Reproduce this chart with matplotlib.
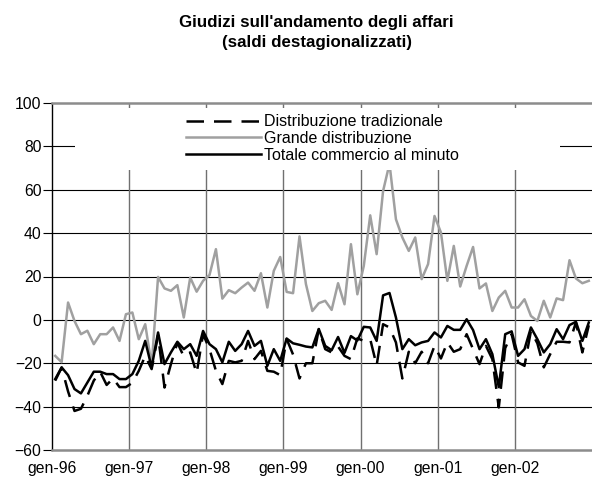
import numpy as np
from matplotlib import pyplot as plt
from matplotlib.patches import Rectangle

plt.rcParams['font.family'] = ['Liberation Sans', 'DejaVu Sans']

# mesi da gen-96 a dic-02
anni = ['gen-96', 'gen-97', 'gen-98', 'gen-99', 'gen-00', 'gen-01', 'gen-02']

tradizionale = [-28, -22, -33, -42, -41, -35, -28, -24, -30, -27, -31, -31,
                -29, -23.5, -16.6, -22.7, -7, -31.2, -20.4, -10.5, -16.9, -15, -24.6, -6.6,
                -13.5, -23.5, -29.6, -18.9, -19.6, -18.9, -9.7, -18.1, -14.3, -23.5, -23.9, -25.5,
                -8.8, -16, -27, -20, -20, -4.3, -13.5, -15, -12.3, -16.6, -18.1, -8.5,
                -9.7, -8.9, -21, -2, -3.5, -10.4, -27, -14.7, -20, -14.7, -20, -12,
                -17.8, -10.4, -14.7, -13.5, -6.6, -13.5, -20.4, -12, -18.1, -40.4, -13, -6.6,
                -19.6, -21.2, -5.1, -10.8, -21.9, -15.8, -10.1, -10.1, -10.4, -1.2, -15, -2.5]

grande = [-16.6, -19.5, 8, -0.5, -6.6, -5, -11.2, -6.6, -6.6, -3.5, -9.7, 2.6,
          3.4, -8.9, -2, -21, 19.8, 14.5, 13.4, 16, 1.1, 19.5, 13, 18,
          20.7, 32.6, 9.8, 13.7, 12.3, 14.9, 17.2, 13.4, 21.5, 5.7, 22.6, 29,
          12.9, 12.3, 38.5, 16.5, 4.1, 7.7, 8.8, 4.6, 16.9, 7.2, 34.9, 11.8,
          24.9, 48.2, 30.3, 59.4, 72, 46.4, 38, 31.8, 38, 18.8, 25.7, 47.9,
          40.3, 18, 34.1, 15.4, 24.9, 33.6, 14.5, 16.8, 4.1, 10.3, 13.4, 5.7,
          5.7, 9.5, 1.8, -0.5, 8.8, 1.1, 9.9, 9.1, 27.5, 19.1, 16.9, 18]

totale = [-27.3, -21.9, -25.5, -31.9, -33.9, -28.9, -23.9, -23.9, -25, -25, -27.3, -27.3,
          -25, -18.9, -9.7, -21.9, -5.8, -20.4, -15, -10.1, -13.5, -11.2, -16.6, -5.1,
          -11.2, -13.5, -19.6, -10.1, -14.3, -11.2, -5.1, -12, -9.7, -21.2, -13.5, -18.9,
          -8.6, -10.8, -11.5, -12.3, -12.7, -4.2, -12, -14, -7.9, -15.2, -7.5, -9.5,
          -3.2, -3.5, -9.7, 11.3, 12.4, 1.1, -13.5, -8.9, -11.7, -10.4, -9.7, -5.8,
          -8.1, -2.8, -4.6, -4.6, 0.3, -4.7, -13.5, -8.9, -15.8, -31, -6.6, -5.3,
          -16.6, -13.5, -3.5, -8.9, -15, -11.2, -4.3, -8.9, -2.4, -0.9, -9.7, -1.2]

x = np.arange(len(totale)) + 0.5

fig = plt.figure(figsize=(5.92, 4.82), dpi=100)
ax = fig.add_axes([52/592, 32/482, 540/592, 347/482])

# griglia
for v in [-40, -20, 0, 20, 40, 60, 80]:
    ax.axhline(v, color='black', lw=0.8, zorder=1)
for k in range(1, len(anni)):
    ax.axvline(12*k, color='#707070', lw=1.0, zorder=1)

l1, = ax.plot(x, tradizionale, color='black', lw=1.8, dashes=(7, 4), zorder=3)
l2, = ax.plot(x, grande, color='#a0a0a0', lw=1.8, zorder=2)
l3, = ax.plot(x, totale, color='black', lw=1.8, zorder=3)

# riquadro bianco della legenda
ax.add_patch(Rectangle((0.043, 0.807), 0.897, 0.18, transform=ax.transAxes,
                       facecolor='white', edgecolor='none', zorder=4))
ax.legend([l1, l2, l3], ['Distribuzione tradizionale', 'Grande distribuzione',
                         'Totale commercio al minuto'],
          loc='upper left', bbox_to_anchor=(0.233, 0.99), frameon=False,
          borderpad=0, handlelength=4.7, handletextpad=0.2, labelspacing=0.1,
          fontsize=11.5)

ax.set_xlim(0, 84)
ax.set_ylim(-60, 100)
ax.set_yticks(range(-60, 101, 20))
ax.set_xticks([12*k for k in range(len(anni))])
ax.set_xticklabels(anni)
ax.tick_params(axis='x', length=0, pad=8, labelsize=11.3)
ax.tick_params(axis='y', length=6.5, width=0.8, pad=1, labelsize=11.3, direction='out')

ax.spines['right'].set_visible(False)
ax.spines['left'].set_color('black')
ax.spines['left'].set_linewidth(1.0)
for s in ['top', 'bottom']:
    ax.spines[s].set_color('#8c8c8c')
    ax.spines[s].set_linewidth(1.8)

fig.text(0.535, 1 - 23/482, "Giudizi sull'andamento degli affari", ha='center', va='center',
         fontsize=12.2, fontweight='bold')
fig.text(0.535, 1 - 43/482, '(saldi destagionalizzati)', ha='center', va='center',
         fontsize=12.2, fontweight='bold')

fig.savefig('out.png', dpi=100)
